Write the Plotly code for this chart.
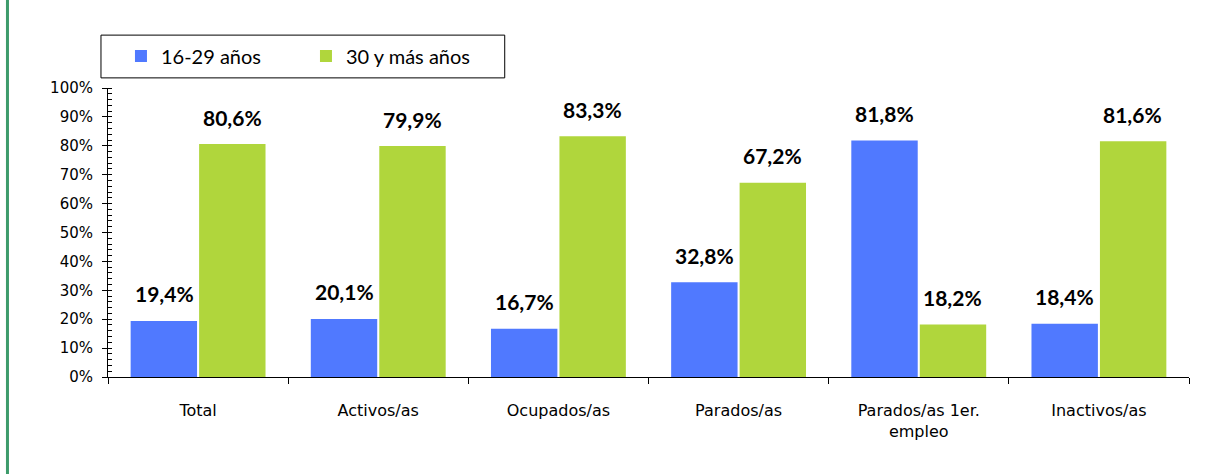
import plotly.graph_objects as go

categories = ["Total", "Activos/as", "Ocupados/as", "Parados/as",
              "Parados/as 1er.<br>empleo", "Inactivos/as"]
jovenes = [19.4, 20.1, 16.7, 32.8, 81.8, 18.4]
mayores = [80.6, 79.9, 83.3, 67.2, 18.2, 81.6]

blue = "#5079ff"
green = "#b0d63c"

fig = go.Figure()
fig.add_trace(go.Bar(x=categories, y=[v / 100 for v in jovenes], name="16-29 años",
                     marker=dict(color=blue, line=dict(width=0))))
fig.add_trace(go.Bar(x=categories, y=[v / 100 for v in mayores], name="30 y más años",
                     marker=dict(color=green, line=dict(width=0))))

# value labels above each bar
for serie, shift in ((jovenes, -34), (mayores, 34)):
    for cat, v in zip(categories, serie):
        fig.add_annotation(x=cat, y=v / 100, xshift=shift, yshift=27,
                           text=f"<b>{v:.1f}%</b>".replace(".", ","), showarrow=False,
                           font=dict(size=21, color="black", family="Lato"))

# green rule on the left edge
fig.add_shape(type="line", xref="paper", yref="paper", x0=-0.093, x1=-0.093,
              y0=-0.4, y1=1.4, line=dict(color="#3d9b6b", width=3))
# legend frame
fig.add_shape(type="rect", xref="paper", yref="paper", x0=-0.0065, x1=0.367,
              y0=1.035, y1=1.183, line=dict(color="black", width=1))

fig.update_layout(
    width=1209, height=474,
    margin=dict(l=108, r=20, t=88, b=97),
    plot_bgcolor="white", paper_bgcolor="white",
    barmode="group", bargap=0.24, bargroupgap=0.03,
    separators=",.",
    font=dict(family="DejaVu Sans", size=15, color="black"),
    showlegend=True,
    legend=dict(orientation="h", x=0.012, y=1.178, xanchor="left", yanchor="top",
                borderwidth=0, font=dict(size=20, family="Lato"),
                entrywidth=140, itemwidth=30, bgcolor="rgba(0,0,0,0)"),
    xaxis=dict(showline=True, linecolor="black", linewidth=1, ticks="outside",
               tickson="boundaries", ticklen=6, tickcolor="black", showgrid=False,
               ticklabelstandoff=19, tickfont=dict(size=16)),
    yaxis=dict(range=[0, 1], dtick=0.1, tickformat=".0%", showline=True,
               linecolor="black", linewidth=1, ticks="outside", ticklen=5,
               tickcolor="black", showgrid=False, zeroline=False,
               ticklabelstandoff=6, tickfont=dict(size=15),
               minor=dict(dtick=0.02, ticks="inside", ticklen=4, tickcolor="black",
                          showgrid=False)),
)

fig.write_html("out.html", config={"displayModeBar": False},
               post_script="document.body.style.margin='0';")
